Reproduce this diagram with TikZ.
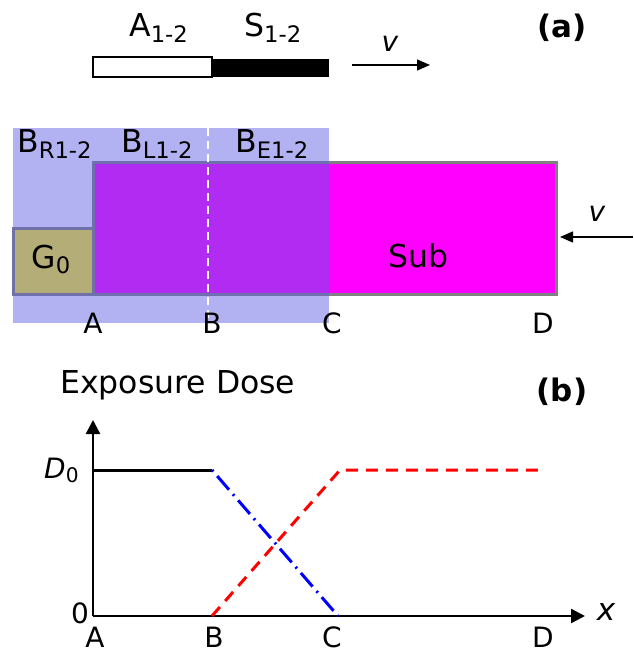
\documentclass[tikz,border=0pt]{standalone}
\usepackage{fontspec}
\setmainfont{DejaVu Sans}
\usetikzlibrary{arrows.meta}
\definecolor{SubMagenta}{HTML}{FF00FF}
\definecolor{BandBlue}{RGB}{92,92,229}
\definecolor{GateOlive}{HTML}{B5AD78}
\definecolor{GateEdge}{HTML}{7070AA}
\definecolor{SubEdge}{HTML}{808080}
\newcommand{\lowsub}[1]{\raisebox{-0.17em}{\scalebox{0.72}{#1}}}

\begin{document}
\begin{tikzpicture}[x=1pt,y=-1pt,
  big/.style={font=\fontsize{31.5}{35}\selectfont,inner sep=0pt},
  mid/.style={font=\fontsize{28}{31}\selectfont,inner sep=0pt},
  speed/.style={font=\fontsize{28}{31}\selectfont\itshape,inner sep=0pt},
  tag/.style={font=\fontsize{31}{35}\selectfont\bfseries,inner sep=0pt},
  axis/.style={line width=2.5pt,-{Triangle[length=14pt,width=14pt]}},
  motion/.style={line width=1.4pt,-{Triangle[length=13pt,width=11pt]}},
  dosecurve/.style={line width=3pt}
]
\useasboundingbox (0,0) rectangle (633,652);

% (a) scan bar
\draw[line width=1.5pt,fill=white] (93,57) rectangle (212,77);
\fill[black] (212,59) rectangle (329,77);
\node[big,anchor=base west] (aperture) at (129,37) {A\lowsub{1-2}};
\node[big,anchor=base west] (shutter) at (244,37) {S\lowsub{1-2}};
\node[speed,anchor=base] (vbar) at (390,52) {v};
\coordinate (bartail) at (352,65);
\coordinate (barhead) at (430,65);
\draw[motion] (bartail) -- (barhead);
\node[tag,anchor=base] (taga) at (562,38) {(a)};

% (a) substrate, band, gate
\fill[SubMagenta] (93,163) rectangle (556,294);
\draw[SubEdge,line width=3pt] (93,163) rectangle (556,294);
\fill[BandBlue,fill opacity=0.47] (13,128) rectangle (329,323);
\draw[GateEdge,line width=3pt,fill=GateOlive] (13,228) rectangle (93,294);
\draw[white,line width=1.8pt,dash pattern=on 8pt off 5pt] (208,128) -- (208,323);

\node[big,anchor=base west] (bandR) at (17,153) {B\lowsub{R1-2}};
\node[big,anchor=base west] (bandL) at (121,153) {B\lowsub{L1-2}};
\node[big,anchor=base west] (bandE) at (235,153) {B\lowsub{E1-2}};
\node[big,anchor=base] (gate) at (51,268) {G\lowsub{0}};
\node[big,anchor=base] (subst) at (418,267) {Sub};
\node[speed,anchor=base] (vsub) at (597,222) {v};
\coordinate (subtail) at (633,237);
\coordinate (subhead) at (560,237);
\draw[motion] (subtail) -- (subhead);
\foreach \name/\xpos in {A/93,B/212,C/332,D/543}
  \node[mid,anchor=base] (top\name) at (\xpos,333) {\name};

% (b) dose profile
\node[big,anchor=base west] (dosetitle) at (60,393) {Exposure Dose};
\node[tag,anchor=base] (tagb) at (562,401) {(b)};
\coordinate (orig) at (93,616);
\coordinate (ytip) at (93,420);
\coordinate (xtip) at (585,616);
\coordinate (pA) at (93,470);
\coordinate (pBD) at (212,470);
\coordinate (pB0) at (212,616);
\coordinate (pC0) at (338,616);
\coordinate (pCD) at (340,470);
\coordinate (pD) at (540,470);
\draw[axis] (orig) -- (ytip);
\draw[axis] (orig) -- (xtip);
\draw[dosecurve] (pA) -- (pBD);
\draw[dosecurve,blue,dash pattern=on 2pt off 6pt on 18pt off 6pt] (pBD) -- (pC0);
\draw[dosecurve,red,dash pattern=on 12pt off 8pt] (pB0) -- (pCD) -- (pD);

\node[mid,anchor=base west] (dzero) at (44,478) {\itshape D\upshape\lowsub{0}};
\node[mid,anchor=base] (zero) at (80,623) {0};
\node[big,anchor=base,font=\fontsize{31}{35}\selectfont\itshape] (xlab) at (606,620) {x};
\foreach \name/\xpos in {A/95,B/214,C/332,D/543}
  \node[mid,anchor=base] (bot\name) at (\xpos,647) {\name};
\end{tikzpicture}
\end{document}
